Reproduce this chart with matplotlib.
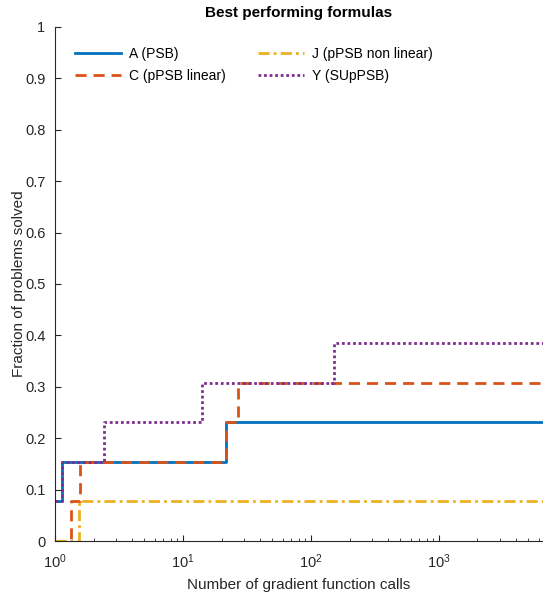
import matplotlib
matplotlib.use("Agg")
import matplotlib.pyplot as plt
import numpy as np

plt.rcParams['font.family'] = ['Liberation Sans', 'DejaVu Sans']

x_max = 6500
# step breakpoints (x) and fraction solved after each breakpoint
A_x = [1.0, 1.135, 21.6, x_max]
A_y = [0.0769, 0.1538, 0.2308, 0.2308]
C_x = [1.0, 1.33, 1.56, 21.8, 26.7, x_max]
C_y = [0.0, 0.0769, 0.1538, 0.2308, 0.3077, 0.3077]
J_x = [1.0, 1.55, x_max]
J_y = [0.0, 0.0769, 0.0769]
Y_x = [1.0, 1.135, 2.4, 14.2, 150, x_max]
Y_y = [0.0769, 0.1538, 0.2308, 0.3077, 0.3846, 0.3846]

labels = ["A (PSB)", "C (pPSB linear)", "J (pPSB non linear)", "Y (SUpPSB)"]
colors = ["#0072BD", "#D95319", "#EDB120", "#7E2F8E"]
styles = ["-", (0, (4, 2.5)), (0, (4, 1.5, 1, 1.5)), (0, (1, 1))]

fig = plt.figure(figsize=(5.43, 5.97), dpi=100)
ax = fig.add_axes([0.1013, 0.0938, 0.8987, 0.861])

series = [(A_x, A_y), (C_x, C_y), (J_x, J_y), (Y_x, Y_y)]
for i in range(4):
    xs, ys = series[i]
    ax.step(xs, ys, where='post', color=colors[i], linestyle=styles[i],
            linewidth=2.0, label=labels[i])

ax.set_xscale('log')
ax.set_xlim(1, x_max)
ax.set_ylim(0, 1)
ax.set_yticks(np.arange(0, 1.01, 0.1))
ax.set_yticklabels(["0", "0.1", "0.2", "0.3", "0.4", "0.5", "0.6", "0.7", "0.8", "0.9", "1"])
ax.set_xticks([1, 10, 100, 1000])
ax.tick_params(direction='in', which='both', labelsize=10.5, colors='#262626')
ax.tick_params(axis='y', pad=7)
ax.tick_params(axis='x', pad=8)
ax.tick_params(which='major', length=4)
ax.tick_params(which='minor', length=2)
for s in ['top', 'right']:
    ax.spines[s].set_visible(False)
for s in ['left', 'bottom']:
    ax.spines[s].set_color('#262626')
    ax.spines[s].set_linewidth(0.8)

ax.set_xlabel("Number of gradient function calls", fontsize=11, color='#262626', labelpad=5)
ax.set_ylabel("Fraction of problems solved", fontsize=11, color='#262626', labelpad=-1)
ax.set_title("Best performing formulas", fontsize=11, fontweight='bold', pad=7)

ax.legend(loc='upper left', ncol=2, frameon=False, fontsize=10,
          handlelength=3.3, handletextpad=0.6, columnspacing=2.3,
          bbox_to_anchor=(0.015, 0.985), labelspacing=0.55)

fig.savefig("out.png", dpi=100)
